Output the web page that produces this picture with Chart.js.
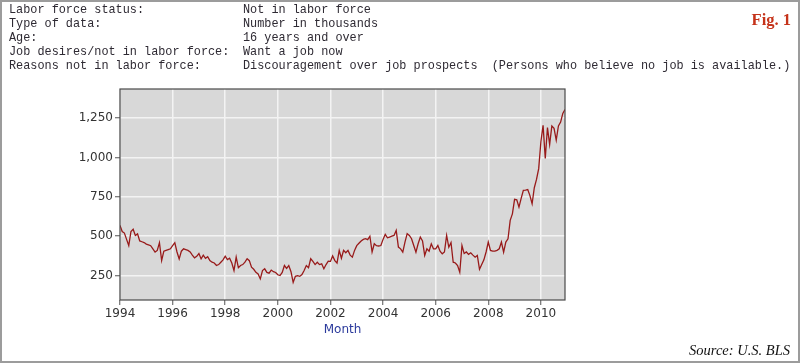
<!DOCTYPE html>
<html><head><meta charset="utf-8">
<script src="https://cdn.jsdelivr.net/npm/chart.js@4.4.0/dist/chart.umd.min.js"></script>
<style>
html,body{margin:0;padding:0;background:#fff;width:800px;height:363px;overflow:hidden;}
#c{position:absolute;left:0;top:0;}
#frame{position:absolute;left:0;top:0;width:800px;height:363px;box-sizing:border-box;border:2px solid #9c9c9c;pointer-events:none;}
.mono{position:absolute;top:4px;font-family:'Liberation Mono','DejaVu Sans Mono',monospace;font-size:11.85px;line-height:13.9px;color:#2e2a33;white-space:pre;}
#fig{position:absolute;right:9px;top:10px;font-family:'Liberation Serif',serif;font-weight:bold;font-size:16.5px;color:#c5331a;}
#src{position:absolute;right:10px;top:342px;font-family:'Liberation Serif',serif;font-style:italic;font-size:14.5px;color:#111;}
</style></head>
<body>
<canvas id="c" width="800" height="363"></canvas>
<div class="mono" id="col1" style="left:9px"></div>
<div class="mono" id="col2" style="left:243px"></div>
<div id="fig">Fig. 1</div>
<div id="src">Source: U.S. BLS</div>
<div id="frame"></div>
<script>
// Header text
const headerLabels = ['Labor force status:', 'Type of data:', 'Age:', 'Job desires/not in labor force:', 'Reasons not in labor force:'];
const headerValues = ['Not in labor force', 'Number in thousands', '16 years and over', 'Want a job now', 'Discouragement over job prospects  (Persons who believe no job is available.)'];

// Monthly values (thousands), Jan..Dec of each year
const years = [1994,1995,1996,1997,1998,1999,2000,2001,2002,2003,2004,2005,2006,2007,2008,2009,2010];
const v1994 = [569,530,520,480,441,530,544,505,515,470,465,460];
const v1995 = [450,445,440,420,399,410,459,346,405,410,415,420];
const v1996 = [440,459,400,356,405,420,415,410,400,380,363,372];
const v1997 = [390,356,380,360,370,345,335,330,314,320,335,350];
const v1998 = [373,352,360,330,282,367,300,314,320,335,357,345];
const v1999 = [303,290,271,260,229,282,293,270,265,285,275,270];
const v2000 = [255,250,270,314,295,314,275,207,245,250,245,257];
const v2001 = [282,314,300,357,340,320,335,320,325,293,320,341];
const v2002 = [340,375,345,330,410,360,410,395,410,380,367,410];
const v2003 = [440,455,470,480,484,478,500,400,452,440,438,441];
const v2004 = [480,512,490,495,500,505,537,431,420,399,463,516];
const v2005 = [505,484,441,399,452,495,470,378,420,405,452,420];
const v2006 = [420,441,405,388,400,505,430,460,335,330,314,271];
const v2007 = [441,390,400,385,395,380,367,378,290,320,350,400];
const v2008 = [463,410,405,405,410,420,463,399,463,484,601,642];
const v2009 = [734,731,685,740,792,793,796,758,706,808,861,929];
const v2010 = [1100,1204,994,1190,1083,1200,1185,1110,1200,1225,1280,1305];
const yearValues = [v1994,v1995,v1996,v1997,v1998,v1999,v2000,v2001,v2002,v2003,v2004,v2005,v2006,v2007,v2008,v2009,v2010];

const xTicks = [1994,1996,1998,2000,2002,2004,2006,2008,2010];
const yTicks = [250,500,750,1000,1250];

document.getElementById('col1').textContent = headerLabels.join('\n');
document.getElementById('col2').textContent = headerValues.join('\n');

const points = [];
years.forEach((yr, i) => {
  yearValues[i].forEach((v, m) => points.push({x: yr + m / 12, y: v}));
});

const plotBg = {
  id: 'plotBg',
  beforeDraw(chart) {
    const {ctx, chartArea: a} = chart;
    ctx.save();
    ctx.fillStyle = '#d8d8d8';
    ctx.fillRect(a.left, a.top, a.right - a.left, a.bottom - a.top);
    ctx.restore();
  },
  afterDraw(chart) {
    const {ctx, chartArea: a} = chart;
    ctx.save();
    ctx.strokeStyle = '#4a4a4a';
    ctx.lineWidth = 1.2;
    ctx.strokeRect(a.left, a.top, a.right - a.left, a.bottom - a.top);
    ctx.restore();
  }
};

const tickFont = {family: "'DejaVu Sans', sans-serif", size: 12};

new Chart(document.getElementById('c'), {
  type: 'line',
  data: {datasets: [{data: points, borderColor: '#981a1a', borderWidth: 1.3, pointRadius: 0, tension: 0, fill: false}]},
  options: {
    responsive: false, animation: false, devicePixelRatio: 1,
    layout: {padding: {left: 0, top: 89, right: 235, bottom: 24}},
    plugins: {legend: {display: false}, tooltip: {enabled: false}},
    scales: {
      x: {
        type: 'linear', min: years[0], max: years[years.length - 1] + 11 / 12,
        afterBuildTicks: s => { s.ticks = xTicks.map(v => ({value: v})); },
        afterFit: s => { s.height = 39; },
        ticks: {callback: v => String(v), font: tickFont, color: '#333', padding: 2, maxRotation: 0, autoSkip: false},
        grid: {color: '#f3f3f3', lineWidth: 1.5, tickColor: '#555', tickLength: 5, tickWidth: 1},
        border: {display: false},
        title: {display: true, text: 'Month', color: '#2b3a9c', font: {family: "'DejaVu Sans', sans-serif", size: 12}, padding: {top: 0, bottom: 2}}
      },
      y: {
        type: 'linear', min: 95, max: 1435,
        afterBuildTicks: s => { s.ticks = yTicks.map(v => ({value: v})); },
        afterFit: s => { s.width = 120; },
        ticks: {callback: v => v.toLocaleString('en-US'), font: tickFont, color: '#333', padding: 2, autoSkip: false},
        grid: {color: '#f3f3f3', lineWidth: 1.5, tickColor: '#555', tickLength: 5, tickWidth: 1},
        border: {display: false}
      }
    }
  },
  plugins: [plotBg]
});
</script>
</body></html>
